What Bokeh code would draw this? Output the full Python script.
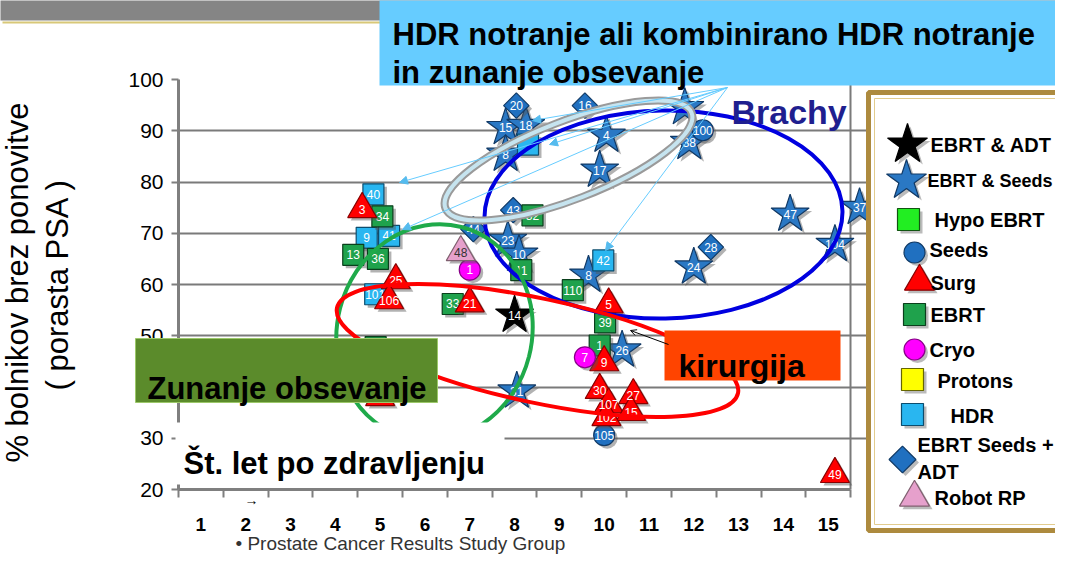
from math import pi
from bokeh.plotting import figure
from bokeh.models import (ColumnDataSource, Range1d, FixedTicker, Label, Arrow, NormalHead, OpenHead, GridBox)
from bokeh.core.properties import value
from bokeh.transform import dodge
from bokeh.embed import file_html
from bokeh.resources import INLINE

# ---------------- data ----------------
x_ticks = list(range(1, 16))
x_tick_labels = [str(t) for t in x_ticks]
y_ticks = [20, 30, 40, 50, 60, 70, 80, 90, 100]

ebrt_adt_x = [8.0]
ebrt_adt_y = [54.0]
ebrt_adt_id = ["14"]

ebrt_seeds_x = [7.8, 8.25, 7.8, 10.05, 9.9, 11.8, 11.9, 7.85, 8.1, 9.65, 12.0, 14.15, 15.7, 15.15, 10.4, 8.05]
ebrt_seeds_y = [90.6, 91.0, 85.4, 89.1, 82.3, 94.5, 87.7, 68.6, 65.9, 61.8, 63.4, 73.7, 75.0, 67.8, 47.2, 39.2]
ebrt_seeds_id = ["15", "18", "8", "4", "17", "9", "38", "23", "10", "8", "24", "47", "37", "104", "26", "31"]

hypo_x = []
hypo_y = []
hypo_id = []

seeds_x = [12.2, 10.0]
seeds_y = [90.1, 30.6]
seeds_id = ["100", "105"]

surg_x = [4.6, 5.35, 5.2, 5.0, 7.0, 10.1, 10.0, 9.9, 10.65, 10.1, 10.6, 10.05, 15.15]
surg_y = [74.7, 60.8, 56.9, 38.0, 56.3, 56.1, 44.8, 39.4, 38.4, 36.6, 35.1, 34.1, 23.0]
surg_id = ["3", "25", "106", "16", "21", "5", "9", "30", "27", "107", "15", "102", "49"]

ebrt_x = [5.05, 4.4, 4.95, 4.9, 6.62, 8.4, 8.15, 9.3, 10.02, 9.9]
ebrt_y = [73.3, 65.8, 65.0, 47.8, 56.2, 73.5, 62.8, 58.9, 52.6, 48.1]
ebrt_id = ["34", "13", "36", "103", "33", "32", "11", "110", "39", "1"]

cryo_x = [7.0, 9.57]
cryo_y = [62.9, 45.8]
cryo_id = ["1", "7"]

protons_x = []
protons_y = []
protons_id = []

hdr_x = [4.85, 4.7, 5.2, 4.89, 9.98, 8.3]
hdr_y = [77.6, 69.1, 69.5, 58.1, 64.7, 87.3]
hdr_id = ["40", "9", "41", "101", "42", ""]

seeds_adt_x = [8.04, 9.57, 7.97, 7.08, 12.38]
seeds_adt_y = [94.9, 94.9, 74.5, 70.8, 67.3]
seeds_adt_id = ["20", "16", "43", "44", "28"]

robot_x = [6.8]
robot_y = [66.3]
robot_id = ["48"]

series = {
    "EBRT & ADT": (ebrt_adt_x, ebrt_adt_y, ebrt_adt_id),
    "EBRT & Seeds": (ebrt_seeds_x, ebrt_seeds_y, ebrt_seeds_id),
    "Hypo EBRT": (hypo_x, hypo_y, hypo_id),
    "Seeds": (seeds_x, seeds_y, seeds_id),
    "Surg": (surg_x, surg_y, surg_id),
    "EBRT": (ebrt_x, ebrt_y, ebrt_id),
    "Cryo": (cryo_x, cryo_y, cryo_id),
    "Protons": (protons_x, protons_y, protons_id),
    "HDR": (hdr_x, hdr_y, hdr_id),
    "EBRT Seeds + ADT": (seeds_adt_x, seeds_adt_y, seeds_adt_id),
    "Robot RP": (robot_x, robot_y, robot_id),
}

# ---------------- styles ----------------
styles = {
    "EBRT & ADT": dict(marker="star", size=40, fill="#000000", line="#000000", txt="#ffffff", angle=0),
    "EBRT & Seeds": dict(marker="star", size=40, fill="#2a78c4", line="#123a66", txt="#ffffff", angle=0),
    "Hypo EBRT": dict(marker="square", size=21, fill="#22ee22", line="#115511", txt="#ffffff", angle=0),
    "Seeds": dict(marker="circle", size=21, fill="#2070c0", line="#103a66", txt="#ffffff", angle=0),
    "Surg": dict(marker="triangle", size=29, fill="#ff0000", line="#880000", txt="#ffffff", angle=0),
    "EBRT": dict(marker="square", size=21, fill="#1fa24c", line="#0a3f1c", txt="#ffffff", angle=0),
    "Cryo": dict(marker="circle", size=21, fill="#ff00ff", line="#880088", txt="#ffffff", angle=0),
    "Protons": dict(marker="square", size=21, fill="#ffff00", line="#666600", txt="#000000", angle=0),
    "HDR": dict(marker="square", size=21, fill="#29b6f0", line="#0c4d6e", txt="#ffffff", angle=0),
    "EBRT Seeds + ADT": dict(marker="square", size=18, fill="#2070c0", line="#103a66", txt="#ffffff", angle=pi / 4),
    "Robot RP": dict(marker="triangle", size=29, fill="#e6a0cc", line="#806070", txt="#333333", angle=0),
}
draw_order = ["EBRT & Seeds", "EBRT Seeds + ADT", "Seeds", "HDR", "EBRT", "Hypo EBRT", "Protons",
              "Surg", "Cryo", "Robot RP", "EBRT & ADT"]

W, H = 1055, 554
FL, FT, FW, FH = 178, 79, 699, 410
X0, X1, Y0, Y1 = 0.5, 16.1, 20.0, 100.0
PXX = FW / (X1 - X0)
PXY = FH / (Y1 - Y0)


def X(px):
    return X0 + (px - 8 - FL) / PXX


def Y(py):
    return Y1 - (py - 8 - FT) / PXY


# ================= main chart =================
p = figure(width=W, height=H, frame_width=FW, frame_height=FH,
           x_range=Range1d(X0, X1), y_range=Range1d(Y0, Y1),
           output_backend="svg", toolbar_location=None,
           min_border_left=FL, min_border_right=W - FL - FW,
           min_border_top=FT, min_border_bottom=H - FT - FH,
           background_fill_color="white", border_fill_color="white")
p.outline_line_color = None
p.frame_align = False

xa = p.xaxis[0]
xa.ticker = FixedTicker(ticks=x_ticks, minor_ticks=[t - 0.5 for t in x_ticks] + [x_ticks[-1] + 0.5])
xa.major_label_overrides = {t: l for t, l in zip(x_ticks, x_tick_labels)}
xa.bounds = (0.5, 15.5)
xa.axis_line_color = "#7f7f7f"
xa.axis_line_width = 3
xa.major_tick_line_color = None
xa.major_tick_out = 0
xa.major_tick_in = 0
xa.minor_tick_line_color = "#7f7f7f"
xa.minor_tick_line_width = 2
xa.minor_tick_in = 0
xa.minor_tick_out = 8
xa.major_label_text_font = "Liberation Sans"
xa.major_label_text_font_size = "19px"
xa.major_label_text_font_style = "bold"
xa.major_label_text_color = "black"
xa.major_label_standoff = 20

ya = p.yaxis[0]
ya.ticker = FixedTicker(ticks=y_ticks)
ya.bounds = (20, 100)
ya.axis_line_color = "#7f7f7f"
ya.axis_line_width = 3
ya.major_tick_line_color = "#7f7f7f"
ya.major_tick_line_width = 2
ya.major_tick_out = 7
ya.major_tick_in = 0
ya.minor_tick_line_color = None
ya.major_label_text_font = "Liberation Sans"
ya.major_label_text_font_size = "21px"
ya.major_label_text_color = "black"
ya.major_label_standoff = 8

p.ygrid.ticker = FixedTicker(ticks=y_ticks[1:])
p.ygrid.bounds = (0.5, 15.5)
p.ygrid.grid_line_color = "#7a7a7a"
p.ygrid.grid_line_width = 2
p.xgrid.ticker = FixedTicker(ticks=[15.5])
p.xgrid.bounds = (20, 100)
p.xgrid.grid_line_color = "#7a7a7a"
p.xgrid.grid_line_width = 2

for name in draw_order:
    xs, ys, ids = series[name]
    if not xs:
        continue
    st = styles[name]
    src = ColumnDataSource(dict(x=xs, y=ys, id=ids))
    p.scatter(x=dodge("x", 3 / PXX), y=dodge("y", -3 / PXY), source=src, marker=st["marker"],
              size=st["size"], angle=st["angle"], fill_color="#555555", fill_alpha=0.45, line_color=None)
    p.scatter(x="x", y="y", source=src, marker=st["marker"], size=st["size"], angle=st["angle"],
              fill_color=st["fill"], line_color=st["line"], line_width=1.2)
    p.text(x="x", y="y", text="id", source=src, text_font=value("Liberation Sans"), text_font_size="12px",
           text_color=st["txt"], text_align="center", text_baseline="middle")


def ell(cx, cy, w, h, ang, color, lw):
    p.ellipse(x=X(cx), y=Y(cy), width=w, height=h, angle=ang, width_units="screen", height_units="screen",
              fill_color=None, line_color=color, line_width=lw)


ell(671, 222, 358, 208, 0.02, "#0000e0", 4)
ell(442, 340, 195, 218, -0.25, "#1faa4a", 4)
ell(545, 358, 410, 104, -0.21, "#ff0000", 4)
ell(576, 168, 264, 78, 0.37, "#9a9a9a", 8)
ell(576, 168, 264, 78, 0.37, "#c6e4ef", 4)

# ================= overlay (annotations, legend) =================
# its coordinates are the picture's own pixels (page margin 8px)
ov = figure(width=W, height=H, x_range=Range1d(8, 8 + W), y_range=Range1d(8 + H, 8),
            x_axis_location=None, y_axis_location=None, min_border=0,
            output_backend="svg", toolbar_location=None,
            background_fill_color=None, border_fill_color=None)
ov.outline_line_color = None
ov.grid.visible = False
ov.frame_align = False


def box(l, t, r, b, fill, line=None, lw=0):
    ov.quad(left=l, right=r, top=t, bottom=b, fill_color=fill, line_color=line, line_width=lw)


def txt(px, py, s, size, color="black", bold=True, align="left", baseline="alphabetic",
        font="Liberation Sans", angle=0.0, lh=1.2):
    ov.add_layout(Label(x=px, y=py, text=s, text_font=font, text_font_size=f"{size}px",
                        text_font_style="bold" if bold else "normal", text_color=color,
                        text_align=align, text_baseline=baseline, angle=angle, text_line_height=lh))


# header band and text box
box(0, 0, 1075, 28, "#858585")
box(10, 29, 390, 31, "#d8c878")
box(387, 4, 1075, 93, "#66ccff")
txt(400, 42, "HDR notranje ali kombinirano HDR notranje", 31)
txt(400, 80, "in zunanje obsevanje", 31)

for ex, ey in [(407, 190), (410, 237), (540, 128), (557, 152), (613, 258)]:
    ov.add_layout(Arrow(end=NormalHead(size=8, fill_color="#55bbee", line_color="#55bbee", line_width=1),
                        x_start=735, y_start=95, x_end=ex, y_end=ey,
                        line_color="#66ccff", line_width=1))

txt(739, 119, "Brachy", 34, color="#1f1f8f")

box(143, 346, 445, 410, "#5b8b2b", "#9cc86a", 1)
txt(155, 396, "Zunanje obsevanje", 31)

box(672, 338, 848, 388, "#ff4400")
txt(686, 373, "kirurgija", 32)
ov.add_layout(Arrow(end=OpenHead(size=6, line_width=1, line_color="black"),
                    x_start=676, y_start=352, x_end=638, y_end=338,
                    line_color="black", line_width=1))

box(183, 430, 512, 492, "#ffffff")
txt(191, 471, "Št. let po zdravljenju", 31)
txt(252, 507, "→", 14, bold=False)

txt(243, 551, "• Prostate Cancer Results Study Group", 19, color="#333333", bold=False)

txt(25, 290, "% bolnikov brez ponovitve", 31, bold=False, align="center", baseline="middle", angle=pi / 2)
txt(65, 292, "( porasta PSA )", 31, bold=False, align="center", baseline="middle", angle=pi / 2)

# legend
box(876, 100, 1075, 538, "#ffffff", "#ad8a3e", 5)
box(882, 106, 1075, 532, None, "#e2cc8e", 1)

legend_rows = [
    ("EBRT & ADT", "EBRT & ADT", 915, 152, 42, 938, 152, 20),
    ("EBRT & Seeds", "EBRT & Seeds", 914, 188, 42, 935, 188, 18),
    ("Hypo EBRT", "Hypo EBRT", 916, 227, 22, 942, 227, 20),
    ("Seeds", "Seeds", 922, 260, 21, 937, 257, 20),
    ("Surg", "Surg", 927, 289, 30, 938, 290, 20),
    ("EBRT", "EBRT", 922, 322, 22, 938, 322, 20),
    ("Cryo", "Cryo", 922, 357, 21, 937, 357, 20),
    ("Protons", "Protons", 920, 387, 22, 945, 388, 20),
    ("HDR", "HDR", 920, 422, 22, 958, 423, 20),
    ("EBRT Seeds + ADT", "EBRT Seeds +\nADT", 910, 467, 19, 925, 466, 20),
    ("Robot RP", "Robot RP", 922, 505, 30, 942, 505, 20),
]
leg = dict(gx=[], gy=[], sx=[], sy=[], size=[], marker=[], angle=[], fill=[], line=[])
for key, label, gx, gy, gs, lx, ly, fs in legend_rows:
    st = styles[key]
    leg["gx"].append(gx)
    leg["gy"].append(gy)
    leg["sx"].append(gx + 3)
    leg["sy"].append(gy + 3)
    leg["size"].append(gs)
    leg["marker"].append(st["marker"])
    leg["angle"].append(st["angle"])
    leg["fill"].append(st["fill"])
    leg["line"].append(st["line"])
    txt(lx, ly, label, fs, align="left", baseline="middle", lh=1.25)
lsrc = ColumnDataSource(leg)
ov.scatter(x="sx", y="sy", size="size", marker="marker", angle="angle", source=lsrc,
           fill_color="#555555", fill_alpha=0.4, line_color=None)
ov.scatter(x="gx", y="gy", size="size", marker="marker", angle="angle", source=lsrc,
           fill_color="fill", line_color="line", line_width=1.2)

layout = GridBox(children=[(p, 0, 0), (ov, 0, 0)])
open("out.html", "w").write(file_html(layout, INLINE))
